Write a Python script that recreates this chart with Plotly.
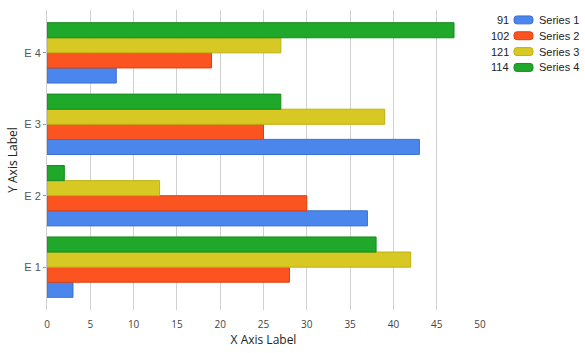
import plotly.graph_objects as go

categories = ["E 1", "E 2", "E 3", "E 4"]
series_names = ["Series 1", "Series 2", "Series 3", "Series 4"]
series1 = [3, 37, 43, 8]
series2 = [28, 30, 25, 19]
series3 = [42, 13, 39, 27]
series4 = [38, 2, 27, 47]
x_ticks = [0, 5, 10, 15, 20, 25, 30, 35, 40, 45, 50]

all_series = [series1, series2, series3, series4]
fills = ["#4a86ec", "#fb5420", "#d8c823", "#1fa82a"]
edges = ["#3a70d0", "#dd4010", "#bfb010", "#168a1e"]

W, H = 585, 353
ML, MR, MT, MB = 47, 105, 10, 40

fig = go.Figure()
for name, vals, fc, ec in zip(series_names, all_series, fills, edges):
    fig.add_trace(go.Bar(
        y=categories, x=vals, name=name, orientation="h",
        marker=dict(color=fc, line=dict(color=ec, width=1)),
        showlegend=False,
    ))

title_font = "Open Sans, DejaVu Sans, sans-serif"
tick_font = "Arial, Liberation Sans, sans-serif"

fig.update_layout(
    width=W, height=H,
    margin=dict(l=ML, r=MR, t=MT, b=MB, pad=0),
    paper_bgcolor="white", plot_bgcolor="white",
    barmode="group", bargap=0.155, bargroupgap=0,
    font=dict(family=tick_font, size=11, color="#444"),
    xaxis=dict(
        range=[0, 50], tickvals=x_ticks, ticktext=[str(v) for v in x_ticks],
        showgrid=True, gridcolor="#d0d0d0", gridwidth=1,
        zeroline=False, showline=False,
        ticks="outside", ticklen=5, tickcolor="rgba(0,0,0,0)",
        tickfont=dict(family=title_font, size=10, color="#444"),
        title=dict(text="X Axis Label", font=dict(family=title_font, size=12, color="#222"), standoff=4),
    ),
    yaxis=dict(
        range=[-0.6, 3.6], categoryorder="array", categoryarray=categories,
        showgrid=False, zeroline=False,
        showline=True, linecolor="#d0d0d0", linewidth=1,
        ticks="outside", ticklen=3, tickcolor="#999",
        tickfont=dict(family=tick_font, size=11, color="#555"),
        title=dict(text="Y Axis Label", font=dict(family=title_font, size=12, color="#222"), standoff=4),
    ),
)

# custom legend: totals, pill swatch, name
plot_w = W - ML - MR
plot_h = H - MT - MB
def px_x(px):
    return (px - ML) / plot_w
def px_y(py):
    return (H - MB - py) / plot_h

shapes = []
annotations = []
for i, (name, vals, fc, ec) in enumerate(zip(series_names, all_series, fills, edges)):
    cy = 20 + 16 * i
    total = sum(vals)
    x0, x1 = 514, 533
    y0, y1 = cy - 4, cy + 4
    r = 3
    X0, X1 = px_x(x0), px_x(x1)
    path = (f"M {px_x(x0 + r)},{px_y(y0)} L {px_x(x1 - r)},{px_y(y0)} "
            f"Q {X1},{px_y(y0)} {X1},{px_y(y0 + r)} L {X1},{px_y(y1 - r)} "
            f"Q {X1},{px_y(y1)} {px_x(x1 - r)},{px_y(y1)} "
            f"L {px_x(x0 + r)},{px_y(y1)} Q {X0},{px_y(y1)} {X0},{px_y(y1 - r)} "
            f"L {X0},{px_y(y0 + r)} Q {X0},{px_y(y0)} {px_x(x0 + r)},{px_y(y0)} Z")
    shapes.append(dict(type="path", xref="paper", yref="paper", path=path,
                       fillcolor=fc, line=dict(color=ec, width=1)))
    annotations.append(dict(xref="paper", yref="paper", x=px_x(511), y=px_y(cy),
                            text=str(total), showarrow=False, xanchor="right", yanchor="middle",
                            font=dict(family=tick_font, size=11, color="#222")))
    annotations.append(dict(xref="paper", yref="paper", x=px_x(537), y=px_y(cy),
                            text=name, showarrow=False, xanchor="left", yanchor="middle",
                            font=dict(family=tick_font, size=11, color="#222")))

fig.update_layout(shapes=shapes, annotations=annotations)
fig.write_html("out.html")
